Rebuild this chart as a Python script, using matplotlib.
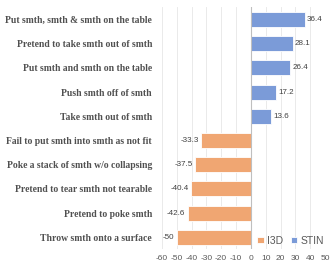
import numpy as np
import matplotlib
matplotlib.use('Agg')
import matplotlib.pyplot as plt

# data
#
categories = [
  'Put smth, smth & smth on the table',
  'Pretend to take smth out of smth',
  'Put smth and smth on the table',
  'Push smth off of smth',
  'Take smth out of smth',
  'Fail to put smth into smth as not fit',
  'Poke a stack of smth w/o collapsing',
  'Pretend to tear smth not tearable',
  'Pretend to poke smth',
  'Throw smth onto a surface',
]
stin = [36.4, 28.1, 26.4, 17.2, 13.6, None, None, None, None, None]
i3d = [None, None, None, None, None, -33.3, -37.5, -40.4, -42.6, -50]
xticks = list(range(-60, 51, 10))

blue = '#7b9bd8'
orange = '#f0a672'
gray = '#595959'

fig = plt.figure(figsize=(3.33, 2.7), dpi=100)
ax = fig.add_axes([0.486, 0.076, 0.49, 0.897])

y = np.arange(len(categories))

def bars(vals, color, label):
  ys = [yy for yy, v in zip(y, vals) if v is not None]
  vs = [v for v in vals if v is not None]
  ax.barh(ys, vs, height=0.62, color=color, edgecolor='white', linewidth=0.6, label=label, zorder=3)
  for yy, v in zip(ys, vs):
    off = 1.5 if v > 0 else -1.5
    ax.text(v + off, yy, f'{v:g}', ha='left' if v > 0 else 'right', va='center',
            fontsize=5.8, color='#404040', family='Liberation Sans')

bars(i3d, orange, 'I3D')
bars(stin, blue, 'STIN')

ax.set_xlim(-60, 50)
ax.set_ylim(len(categories) - 0.5, -0.5)
ax.set_xticks(xticks)
ax.set_xticklabels([str(t) for t in xticks], fontsize=6, color=gray, family='Liberation Sans')
ax.set_yticks(y)
ax.set_yticklabels(categories, fontsize=6.9, fontweight='bold', color='#505050', family='Liberation Serif')
ax.tick_params(axis='both', length=0)
ax.tick_params(axis='y', pad=7)
ax.tick_params(axis='x', pad=4)
for s in ax.spines.values():
  s.set_visible(False)
ax.grid(axis='x', color='#e6e6e6', linewidth=0.6, zorder=0)
ax.axvline(0, color='#bfbfbf', linewidth=0.8, zorder=4)

leg = ax.legend(loc='lower left', bbox_to_anchor=(0.585, 0.015), ncol=2, frameon=False,
                handlelength=0.6, handleheight=0.6, handletextpad=0.3,
                borderpad=0, borderaxespad=0,
                columnspacing=0.8, prop={'family': 'Liberation Sans', 'size': 7.5})
for t in leg.get_texts():
  t.set_color(gray)

plt.savefig('out.png', dpi=100)
